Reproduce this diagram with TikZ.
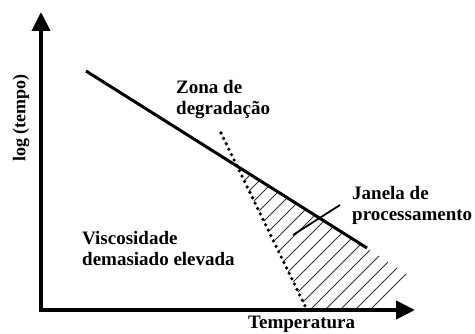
\documentclass[tikz,border=0pt]{standalone}
\usepackage{fontspec}
\setmainfont{Liberation Serif}
\usetikzlibrary{arrows.meta}
\tikzset{
	axis/.style={line width=4pt, -{Triangle[length=19pt,width=18pt]}},
	lab/.style={font=\fontsize{19}{21}\selectfont\bfseries, align=left, inner sep=0pt, anchor=west},
	limit/.style={line width=3pt},
	degr/.style={line width=3.6pt, line cap=round, dash pattern=on 0pt off 6pt},
	hatch/.style={line width=0.8pt, black!80},
}

\begin{document}
\begin{tikzpicture}[x=1pt, y=-1pt]
	\useasboundingbox (0,0) rectangle (475,334);
	% axes
	\coordinate (yBot) at (41,312);
	\coordinate (yTop) at (41,12);
	\coordinate (xLeft) at (39,310);
	\coordinate (xRight) at (415,310);
	% viscosity limit and degradation limit
	\coordinate (solidA) at (86,71);
	\coordinate (solidB) at (367,248);
	\coordinate (dotA) at (221,133);
	\coordinate (dotB) at (307,310);
	\coordinate (cross) at (237.1,166.2);
	\coordinate (hatchR) at (408,275);
	\coordinate (hatchB) at (373,310);
	% pointer of the window label
	\coordinate (ptrA) at (340,205);
	\coordinate (ptrB) at (293,235);
	\begin{scope}
		\clip (cross) -- (solidB) -- (hatchR) -- (hatchB) -- (dotB) -- cycle;
		\foreach \c in {395,410,...,680}
			\draw[hatch] (\c-320,320) -- (\c-150,150);
	\end{scope}
	\draw[limit] (solidA) -- (solidB);
	\draw[degr] (dotA) -- (dotB);
	\draw[line width=1.8pt] (ptrA) -- (ptrB);
	\draw[axis] (yBot) -- (yTop);
	\draw[axis] (xLeft) -- (xRight);
	\node[lab] (zona) at (176,100) {Zona de\\degradação};
	\node[lab] (janela) at (352,205) {Janela de\\processamento};
	\node[lab] (visc) at (82,249) {Viscosidade\\demasiado elevada};
	\node[lab, anchor=base west] (temp) at (248,329) {Temperatura};
	\node[lab, anchor=center, font=\fontsize{18}{20}\selectfont\bfseries, rotate=90] (logt) at (21,118) {log (tempo)};
\end{tikzpicture}
\end{document}
